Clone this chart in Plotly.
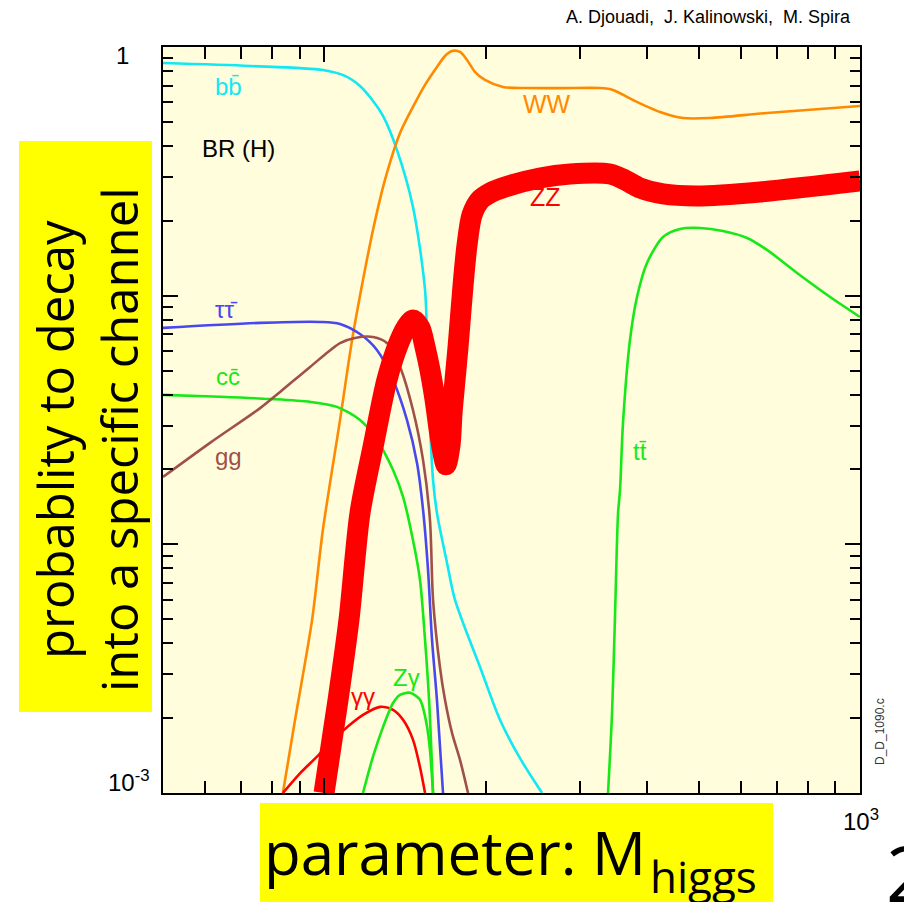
import plotly.graph_objects as go

# ---------------- data (Higgs mass in GeV, branching ratio) ----------------
mass_bb = [50, 72.7, 99.4, 109.3, 116.6, 121.7, 128.7, 136.7, 146.4, 154.2, 156.2, 159.6, 162.3, 169.5, 175.4, 195.3, 212.8, 231.9, 255.0]
br_bb = [0.862, 0.839, 0.808, 0.765, 0.697, 0.629, 0.528, 0.385, 0.2274, 0.1054, 0.0458, 0.01815, 0.01337, 0.00842, 0.00598, 0.00321, 0.00197, 0.00138, 0.001]

mass_ww = [83.7, 88.2, 94.9, 99.4, 107.0, 112.7, 118.1, 123.3, 129.8, 138.5, 146.4, 154.2, 162.3, 168.0, 173.2, 179.2, 184.7, 191.2, 199.5, 215.6, 239.0, 275.5, 327.2, 345.9, 377.0, 423.4, 467.4, 524.9, 670.6, 1000]
br_ww = [0.001, 0.00197, 0.00497, 0.01142, 0.0316, 0.0664, 0.1156, 0.1837, 0.292, 0.451, 0.574, 0.704, 0.831, 0.920, 0.964, 0.955, 0.887, 0.793, 0.737, 0.690, 0.684, 0.683, 0.684, 0.672, 0.612, 0.548, 0.518, 0.518, 0.543, 0.579]

mass_zz = [99.9, 106.1, 111.2, 116.6, 123.3, 130.9, 137.3, 142.1, 146.4, 150.9, 154.2, 157.5, 161.0, 164.4, 167.3, 168.8, 171.7, 173.2, 175.4, 177.7, 181.6, 184.7, 188.7, 195.3, 203.9, 217.5, 252.7, 287.6, 341.5, 364.2, 388.5, 428.9, 496.4, 650.9, 1000]
br_zz = [0.001, 0.00237, 0.00497, 0.01337, 0.0246, 0.0458, 0.0633, 0.0742, 0.0799, 0.0742, 0.0622, 0.0503, 0.0381, 0.0275, 0.0223, 0.0209, 0.0251, 0.0338, 0.0458, 0.0622, 0.1104, 0.1599, 0.2112, 0.2425, 0.2588, 0.2736, 0.2973, 0.3085, 0.3085, 0.292, 0.2710, 0.2564, 0.2517, 0.2612, 0.2891]

mass_tau = [50, 75.9, 98.2, 107.0, 116.6, 125.4, 134.4, 142.7, 149.0, 152.9, 156.2, 158.9, 162.3, 166.6]
br_tau = [0.0742, 0.0777, 0.0784, 0.0770, 0.0701, 0.0605, 0.0458, 0.0316, 0.0212, 0.01375, 0.00789, 0.00413, 0.00237, 0.001]

mass_cc = [50, 63.9, 79.2, 94.1, 105.6, 116.6, 125.4, 134.4, 140.3, 146.4, 150.9, 154.2, 156.9, 159.6]
br_cc = [0.0399, 0.0392, 0.0384, 0.0374, 0.0357, 0.0316, 0.0263, 0.0199, 0.01551, 0.01041, 0.00719, 0.00413, 0.00237, 0.001]

mass_gg = [50, 61.2, 75.9, 82.7, 94.1, 107.0, 114.1, 123.3, 130.9, 138.5, 146.4, 152.9, 157.5, 159.6, 164.4, 168.0, 173.2, 179.2, 185.5]
br_gg = [0.01866, 0.0256, 0.0353, 0.0410, 0.0517, 0.0645, 0.0676, 0.0682, 0.0645, 0.0517, 0.0347, 0.0218, 0.01253, 0.00598, 0.00321, 0.00237, 0.00174, 0.00136, 0.001]

mass_aa = [83.7, 90.1, 96.9, 103.8, 110.3, 118.1, 127.1, 134.4, 140.3, 146.4, 150.9, 154.2]
br_aa = [0.001, 0.00120, 0.00140, 0.00164, 0.00184, 0.00206, 0.00222, 0.00216, 0.00197, 0.00164, 0.00127, 0.001]

mass_za = [118.1, 123.3, 128.7, 134.4, 138.5, 144.5, 150.9, 155.6, 157.5, 159.6]
br_za = [0.001, 0.00140, 0.00184, 0.00230, 0.00248, 0.00253, 0.00237, 0.00184, 0.00149, 0.001]

mass_tt = [338.6, 344.5, 349.0, 353.5, 356.5, 361.1, 372.1, 383.5, 400.3, 428.9, 461.4, 502.8, 555.0, 615.5, 670.6, 763.0, 879.5, 1000]
br_tt = [0.001, 0.00210, 0.00530, 0.01337, 0.01655, 0.0308, 0.0664, 0.0988, 0.1353, 0.1722, 0.1854, 0.1872, 0.1820, 0.1706, 0.1527, 0.1234, 0.0988, 0.0821]

y_tickvals = [0.001, 0.01, 0.1, 1]
y_minor = [m * 10.0 ** e for e in (-3, -2, -1) for m in range(2, 10)]
x_tickvals = [100, 1000]
x_minor = [60, 70, 80, 90, 200, 300, 400, 500, 600, 700, 800, 900]

# ---------------- layout geometry ----------------
W, H = 904, 902
L, R, T, B = 163, 860, 47, 793


def px(x):
    return (x - L) / (R - L)


def py(y):
    return (B - y) / (B - T)


C_CYAN = "#10e8f4"
C_ORANGE = "#ff8a00"
C_RED = "#ff0000"
C_BLUE = "#4848ee"
C_GREEN = "#18e818"
C_BROWN = "#a0504a"

fig = go.Figure()


def add_line(x, y, color, width=2.6):
    fig.add_trace(go.Scatter(x=x, y=y, mode="lines",
                             line=dict(color=color, width=width, shape="spline", smoothing=0.8),
                             hoverinfo="skip", showlegend=False))


add_line(mass_bb, br_bb, C_CYAN)
add_line(mass_ww, br_ww, C_ORANGE)
add_line(mass_tau, br_tau, C_BLUE)
add_line(mass_cc, br_cc, C_GREEN)
add_line(mass_gg, br_gg, C_BROWN)
add_line(mass_aa, br_aa, C_RED)
add_line(mass_za, br_za, C_GREEN)
add_line(mass_tt, br_tt, C_GREEN)
add_line(mass_zz, br_zz, C_RED, width=21)

axis_common = dict(showline=True, linecolor="black", linewidth=2, mirror="allticks",
                   ticks="inside", tickcolor="black", tickwidth=2, showgrid=False,
                   zeroline=False, showticklabels=False)

fig.update_xaxes(type="log", range=[1.69897, 3.0], tickmode="array", tickvals=x_tickvals, ticklen=15,
                 minor=dict(tickmode="array", tickvals=x_minor, ticks="inside", ticklen=12,
                            tickcolor="black", tickwidth=2),
                 **axis_common)
fig.update_yaxes(type="log", range=[-3, 0], tickmode="array", tickvals=y_tickvals, ticklen=15,
                 minor=dict(tickmode="array", tickvals=y_minor, ticks="inside", ticklen=10,
                            tickcolor="black", tickwidth=2),
                 **axis_common)

shapes = [
    dict(type="rect", xref="paper", yref="paper", x0=px(19), x1=px(152), y0=py(712), y1=py(141),
         fillcolor="#ffff00", line=dict(width=0), layer="above"),
    dict(type="rect", xref="paper", yref="paper", x0=px(260), x1=px(773), y0=py(902), y1=py(803),
         fillcolor="#ffff00", line=dict(width=0), layer="above"),
]

LAB = "Liberation Sans"
BIG = "Open Sans"
annotations = []


def ann(text, x, y, size, color="black", family=LAB, **kw):
    d = dict(text=text, x=px(x), y=py(y), xref="paper", yref="paper", showarrow=False,
             font=dict(family=family, size=size, color=color), xanchor="center", yanchor="middle")
    d.update(kw)
    annotations.append(d)


# curve labels
ann("bb\u0304", 228, 86, 24, C_CYAN)
ann("BR (H)", 238, 148, 24)
ann("\u03c4\u03c4\u0304", 226, 309, 24, C_BLUE)
ann("cc\u0304", 228, 377, 24, C_GREEN)
ann("gg", 228, 457, 24, C_BROWN)
ann("WW", 547, 104, 25, C_ORANGE)
ann("ZZ", 545, 197, 25, C_RED)
ann("tt\u0304", 640, 451, 24, C_GREEN)
ann("\u03b3\u03b3", 363, 696, 24, C_RED)
ann("Z\u03b3", 406, 677, 24, C_GREEN)

# axis numbers
annotations.append(dict(text="1", x=px(131), y=0, xref="paper", yref="y", showarrow=False,
                        xanchor="right", yanchor="middle",
                        font=dict(family=LAB, size=24, color="black"), yshift=-8))
annotations.append(dict(text="10<sup>-3</sup>", x=px(152), y=-3, xref="paper", yref="y", showarrow=False,
                        xanchor="right", yanchor="middle",
                        font=dict(family=LAB, size=24, color="black"), yshift=12))
annotations.append(dict(text="10<sup>3</sup>", x=3, y=py(820), xref="x", yref="paper", showarrow=False,
                        xanchor="center", yanchor="middle",
                        font=dict(family=LAB, size=24, color="black"), xshift=1))

# credits and ids
ann("A. Djouadi,&nbsp; J. Kalinowski,&nbsp; M. Spira", 853, 17, 18, xanchor="right")
ann("D_D_1090.c", 880, 732, 12, color="#333333", textangle=-90)

# big slide texts
ann("probablity to decay<br>into a specific channel", 87, 440, 49, family=BIG, textangle=-90)
ann("parameter: M", 262, 852, 60, family=BIG, xanchor="left")
ann("higgs", 648, 876, 44, family=BIG, xanchor="left")
ann("2", 884, 872, 76, family=BIG, xanchor="left")

fig.update_layout(width=W, height=H, margin=dict(l=L, r=W - R, t=T, b=H - B),
                  paper_bgcolor="white", plot_bgcolor="#fffddc",
                  shapes=shapes, annotations=annotations)

fig.write_html("out.html", config={"displayModeBar": False},
               post_script="document.body.style.margin='0px';")
